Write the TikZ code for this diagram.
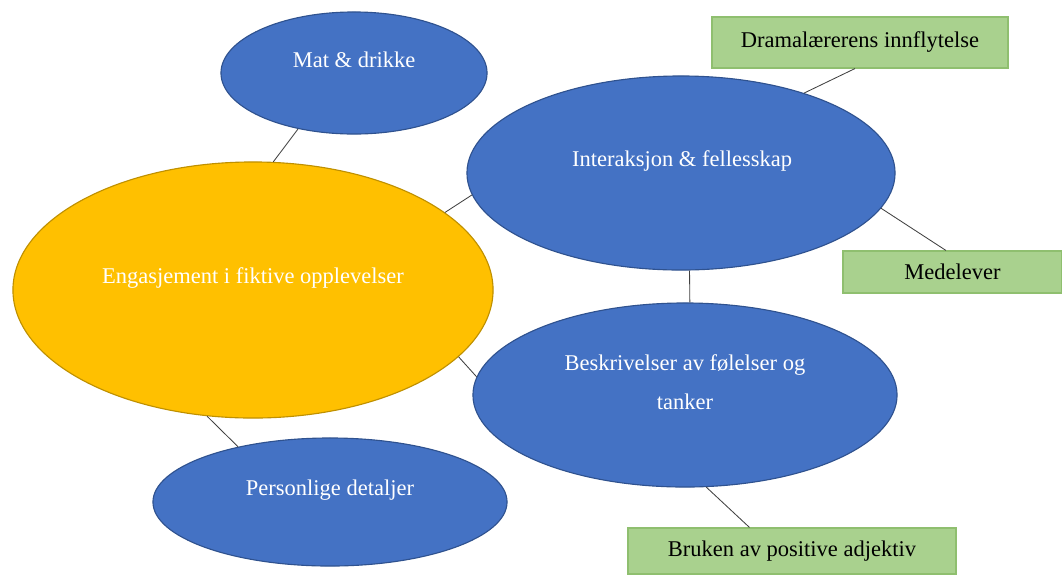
\documentclass[tikz,border=0pt]{standalone}
\usepackage{fontspec}
\setmainfont{Liberation Serif}
\definecolor{bubbleblue}{HTML}{4472C4}
\definecolor{bubbleedge}{HTML}{2F528F}
\definecolor{coreyellow}{HTML}{FFC000}
\definecolor{coreedge}{HTML}{BF9000}
\definecolor{tagfill}{HTML}{A9D18E}
\definecolor{tagedge}{HTML}{8FBF6F}
\definecolor{linkgray}{HTML}{404040}
\usetikzlibrary{shapes.geometric}

\begin{document}
\begin{tikzpicture}[
  x=0.025cm, y=-0.025cm,
  bubble/.style={ellipse, draw=bubbleedge, fill=bubbleblue, line width=0.8pt, inner sep=0pt},
  core/.style={ellipse, draw=coreedge, fill=coreyellow, line width=0.8pt, inner sep=0pt},
  tag/.style={draw=tagedge, fill=tagfill, line width=0.8pt, inner sep=0pt,
              font=\fontsize{16}{19}\selectfont, text=black},
  lbl/.style={text=white, font=\fontsize{16}{19}\selectfont, align=center},
  link/.style={draw=linkgray, line width=0.6pt}
]
\useasboundingbox (0,0) rectangle (1062,574);
\node[core,   minimum width=12cm,   minimum height=6.4cm]  (eng)   at (253,290) {};
\node[bubble, minimum width=6.65cm, minimum height=3.05cm] (mat)   at (354,73)  {};
\node[bubble, minimum width=10.7cm, minimum height=4.85cm] (inter) at (681,173) {};
\node[bubble, minimum width=10.6cm, minimum height=4.6cm]  (besk)  at (685,395) {};
\node[bubble, minimum width=8.85cm, minimum height=3.2cm]  (pers)  at (330,502) {};
\node[tag, minimum width=7.4cm,   minimum height=1.275cm] (dram) at (860,42.5) {Dramalærerens innflytelse};
\node[tag, minimum width=5.475cm, minimum height=1.05cm]  (med)  at (952.5,272) {Medelever};
\node[tag, minimum width=8.2cm,   minimum height=1.15cm]  (bruk) at (792,551) {Bruken av positive adjektiv};
\node[lbl] (eng-t)   at (253,278) {Engasjement i fiktive opplevelser};
\node[lbl] (mat-t)   at (354,60)  {Mat \& drikke};
\node[lbl] (inter-t) at (682,161) {Interaksjon \& fellesskap};
\node[lbl, font=\fontsize{16}{27.5}\selectfont] (besk-t) at (685,382) {Beskrivelser av følelser og\\tanker};
\node[lbl] (pers-t)  at (330,490) {Personlige detaljer};
\draw[link] (mat.225)   -- (eng.81);
\draw[link] (inter.186) -- (eng.22);
\draw[link] (besk.175)  -- (eng.342);
\draw[link] (pers.149)  -- (eng.250);
\draw[link] (inter.33)  -- (dram.259);
\draw[link] (inter.350) -- (med.107);
\draw[link] (inter.275) -- (besk.87);
\draw[link] (besk.283)  -- (bruk.151);
\end{tikzpicture}
\end{document}
